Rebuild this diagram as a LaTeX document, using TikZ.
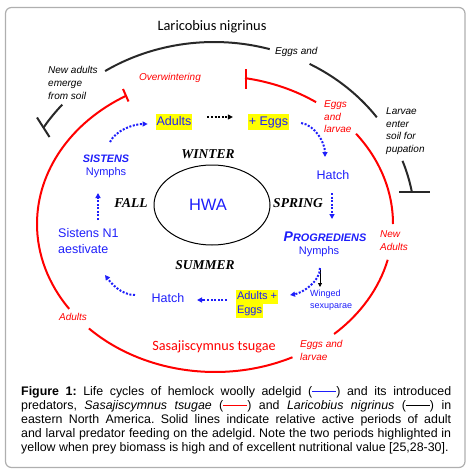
\documentclass[tikz,border=0pt]{standalone}
\usepackage{fontspec}
\setmainfont{Liberation Sans}
\newfontfamily\calfont{Carlito}
\newfontfamily\tmsfont{Liberation Serif}
\usetikzlibrary{arrows.meta}
\definecolor{hblue}{RGB}{30,30,250}
\definecolor{lred}{RGB}{255,0,0}
\definecolor{ldark}{RGB}{40,40,40}
\definecolor{hyel}{RGB}{255,255,0}
\definecolor{framegray}{RGB}{175,175,175}
\newcommand{\ellarc}[7]{\draw[#1] ({#2+#4*cos(#6)},{#3-#5*sin(#6)}) arc[start angle={-(#6)}, end angle={-(#7)}, x radius=#4, y radius=#5];}
\newcommand{\capdash}[1]{\textcolor{#1}{\rule[3.4pt]{24pt}{0.9pt}}}
\frenchspacing
\begin{document}
\begin{tikzpicture}[x=1pt,y=-1pt,
  redline/.style={draw=lred,line width=2pt},
  darkline/.style={draw=ldark,line width=2pt},
  anno/.style={font=\fontsize{10}{12.7}\selectfont\itshape,inner sep=0pt,align=left},
  btxt/.style={font=\fontsize{12.5}{16}\selectfont,text=hblue,inner sep=0pt,align=left},
  hl/.style={fill=hyel,inner xsep=0.8pt,inner ysep=1.5pt,text height=9.3pt,text depth=2.8pt},
  season/.style={font=\tmsfont\bfseries\itshape\fontsize{13.5}{15}\selectfont,inner sep=0pt},
  bdot/.style={draw=hblue,line width=2pt,dash pattern=on 2pt off 1.6pt,-{Triangle[length=5pt,width=5pt]}},
  kdot/.style={bdot,draw=black},
  ksolid/.style={draw=black,line width=0.8pt,-{Triangle[length=4pt,width=4pt]}},
]
\useasboundingbox (0,0) rectangle (470,474);
\draw[draw=framegray,line width=1.2pt,rounded corners=6pt] (5.5,7.5) rectangle (465,467.5);

% titles
\node[font=\calfont\fontsize{14.4}{16}\selectfont,inner sep=0pt] (lari) at (212,27) {Laricobius nigrinus};
\node[font=\calfont\fontsize{14.2}{16}\selectfont,text=lred,inner sep=0pt] (sasa) at (214,347) {Sasajiscymnus tsugae};

% red cycle (Sasajiscymnus)
\ellarc{redline}{215}{224}{178}{148}{120}{215}
\ellarc{redline}{215}{224}{178}{148}{80.3}{55.4}
\ellarc{redline}{215}{224}{178}{148}{37.6}{0}
\ellarc{redline}{215}{224}{178}{148}{-14}{-48}
\ellarc{redline}{215}{224}{178}{148}{-64.2}{-135.1}
\draw[redline] (123,89) -- (128.5,101.5);
\draw[redline] (245.5,69) -- (245.5,89);

% dark cycle (Laricobius)
\ellarc{darkline}{214}{224}{201}{182}{148}{139}
\ellarc{darkline}{214}{224}{201}{182}{122.8}{73.9}
\ellarc{darkline}{214}{224}{201}{182}{61.6}{35.9}
\ellarc{darkline}{214}{224}{201}{182}{20.3}{10.1}
\draw[darkline] (37,117.5) -- (49.5,137);
\draw[darkline] (399,192) -- (430,192);

% annotations
\node[anno,anchor=north west] (newadk) at (48,66.5) {New adults\\emerge\\from soil};
\node[anno,anchor=north west] (eggsk) at (275,47.5) {Eggs and};
\node[anno,anchor=north west] (larvk) at (386,107.5) {Larvae\\enter\\soil for\\pupation};
\node[anno,text=lred] (overw) at (170,77.5) {Overwintering};
\node[anno,text=lred,anchor=north west] (eggsr1) at (324,100.5) {Eggs\\and\\larvae};
\node[anno,text=lred,anchor=north west] (newr) at (380,230.5) {New\\Adults};
\node[anno,text=lred,anchor=north west] (eggsr2) at (300,340.5) {Eggs and\\larvae};
\node[anno,text=lred] (adr) at (73,317) {Adults};

% HWA centre
\draw[line width=1pt] (212,205) ellipse [x radius=58, y radius=40];
\node[font=\fontsize{16.5}{18}\selectfont,text=hblue,inner sep=0pt] (hwa) at (208,205) {HWA};
\node[season] (winter) at (208,154) {WINTER};
\node[season] (fall) at (131,203) {FALL};
\node[season] (spring) at (298,203) {SPRING};
\node[season] (summer) at (205,265) {SUMMER};

% HWA stages
\node[btxt,hl] (adults) at (174,122) {Adults};
\node[btxt,hl] (eggs) at (268.5,122) {+ Eggs};
\node[btxt] (hatcha) at (333,175) {Hatch};
\node[btxt,font=\fontsize{10.9}{13}\selectfont\bfseries\itshape] (prog) at (325,237) {{\fontsize{14}{16}\selectfont P}ROGREDIENS};
\node[btxt,font=\fontsize{11}{13}\selectfont] (progny) at (319,252) {Nymphs};
\node[btxt,font=\fontsize{9}{12}\selectfont,anchor=north west] (wing) at (310,290) {Winged\\sexuparae};
\node[btxt,hl,font=\fontsize{11}{13}\selectfont,text height=8.3pt,text depth=2.5pt,anchor=west] (ae1) at (236,297) {Adults +};
\node[btxt,hl,font=\fontsize{11}{13}\selectfont,text height=8.3pt,text depth=2.5pt,anchor=west] (ae2) at (236,311) {Eggs};
\node[btxt] (hatchb) at (168,298) {Hatch};
\node[btxt,anchor=north west] (sn1) at (58,228) {Sistens N1\\aestivate};
\node[btxt,font=\fontsize{10.8}{13}\selectfont\bfseries\itshape] (sist) at (106,159) {SISTENS};
\node[btxt,font=\fontsize{11}{13}\selectfont] (sistny) at (106,173) {Nymphs};

% stage arrows
\draw[bdot] ([shift={(4,-17)}]sist.center) .. controls +(6,-12) and +(-14,0) .. ([shift={(-8,2)}]adults.west);
\draw[kdot] ([shift={(15,-5)}]adults.east) -- ([shift={(-15,-5)}]eggs.west);
\draw[bdot] ([shift={(12,1)}]eggs.east) .. controls +(14,2) and +(0,-14) .. ([shift={(-8,-18)}]hatcha.center);
\draw[bdot] ([shift={(-1,18)}]hatcha.center) -- ([shift={(7,-18)}]prog.center);
\draw[ksolid] ([shift={(1,16)}]progny.center) -- ([shift={(10,-3)}]wing.north west);
\draw[bdot] ([shift={(1,16)}]progny.center) .. controls +(0,14) and +(12,-2) .. ([shift={(12,-2)}]ae1.east);
\draw[bdot] ([shift={(-9,3)}]ae1.west) -- ([shift={(12.5,2)}]hatchb.east);
\draw[bdot] ([shift={(-16.5,-3)}]hatchb.west) .. controls +(-14,0) and +(6,8) .. ([shift={(47,47)}]sn1.north west);
\draw[bdot] ([shift={(40,-8)}]sn1.north west) -- ([shift={(-8,20)}]sistny.center);

% caption
\node[anchor=north west,inner sep=0pt,align=left,font=\fontsize{12.4}{14}\selectfont] (cap) at (21,386.5) {%
\makebox[430pt][s]{\textbf{Figure 1:} Life cycles of hemlock woolly adelgid (\capdash{hblue}) and its introduced}\\
\makebox[430pt][s]{predators, \textit{Sasajiscymnus tsugae} (\capdash{lred}) and \textit{Laricobius nigrinus} (\capdash{black}) in}\\
\makebox[430pt][s]{eastern North America. Solid lines indicate relative active periods of adult}\\
\makebox[430pt][s]{and larval predator feeding on the adelgid. Note the two periods highlighted in}\\
yellow when prey biomass is high and of excellent nutritional value [25,28-30].};
\end{tikzpicture}
\end{document}
